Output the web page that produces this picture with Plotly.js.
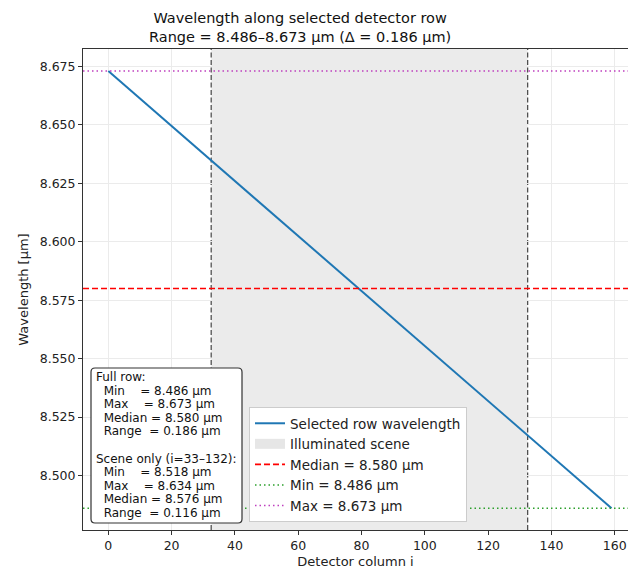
<!DOCTYPE html>
<html>
<head>
<meta charset="utf-8">
<script src="https://cdn.plot.ly/plotly-3.0.1.min.js"></script>
<style>html,body{margin:0;padding:0;background:#fff;} #chart{width:628px;height:573px;}</style>
</head>
<body>
<div id="chart"></div>
<script>
// Data
const columns = [0, 20, 40, 60, 80, 100, 120, 140, 159];
const wavelengths = [8.673, 8.6495, 8.626, 8.6024, 8.5789, 8.5554, 8.5319, 8.5083, 8.486];
const sceneStart = 33;
const sceneEnd = 132;
const fullMin = 8.486, fullMax = 8.673, fullMedian = 8.580, fullRange = 0.186;
const sceneMin = 8.518, sceneMax = 8.634, sceneMedian = 8.576, sceneRange = 0.116;
const yTicks = [8.500, 8.525, 8.550, 8.575, 8.600, 8.625, 8.650, 8.675];
const xTicks = [0, 20, 40, 60, 80, 100, 120, 140, 160];

const FONT = 'DejaVu Sans, sans-serif';
const nb = '\u00a0';
const f3 = v => v.toFixed(3);
const SHADE = 'rgba(128,128,128,0.16)';
const X_RANGE = [-8.0, 164.2];
const Y_RANGE = [8.4767, 8.6824];

// plot area geometry (pixels) for paper conversions
const PL = 83, PW = 545, PB = 530, PH = 481;
const px = v => (v - PL) / PW;
const py = v => (PB - v) / PH;

const hline = (val, name, color, width, dash) => ({
  x: X_RANGE, y: [val, val], type: 'scatter', mode: 'lines', name: name,
  line: {color: color, width: width, dash: dash}, hoverinfo: 'skip'
});

const traces = [
  {
    x: columns, y: wavelengths, type: 'scatter', mode: 'lines',
    name: 'Selected row wavelength', line: {color: '#1f77b4', width: 2}
  },
  {
    // legend entry for the shaded scene region (drawn as a shape)
    x: [null], y: [null], type: 'scatter', mode: 'lines',
    line: {color: '#e6e6e6', width: 10}, name: 'Illuminated scene', hoverinfo: 'skip'
  },
  hline(fullMedian, 'Median = ' + f3(fullMedian) + ' µm', '#ff0000', 1.6, '6px,3px'),
  hline(fullMin, 'Min = ' + f3(fullMin) + ' µm', '#2ca02c', 1.4, '1.5px,3px'),
  hline(fullMax, 'Max = ' + f3(fullMax) + ' µm', '#bf40bf', 1.4, '1.5px,3px')
];

const shapes = [
  {type: 'rect', xref: 'x', yref: 'paper', x0: sceneStart - 0.5, x1: sceneEnd + 0.5, y0: 0, y1: 1,
   fillcolor: SHADE, line: {width: 0}, layer: 'below'},
  {type: 'line', xref: 'x', yref: 'paper', x0: sceneStart - 0.5, x1: sceneStart - 0.5, y0: 0, y1: 1,
   line: {color: '#444', width: 1.2, dash: '5px,2.5px'}, layer: 'below'},
  {type: 'line', xref: 'x', yref: 'paper', x0: sceneEnd + 0.5, x1: sceneEnd + 0.5, y0: 0, y1: 1,
   line: {color: '#444', width: 1.2, dash: '5px,2.5px'}, layer: 'below'}
];

// Stats box: rounded rectangle behind line-by-line text
const bx0 = px(91), bx1 = px(242), by0 = py(523), by1 = py(368);
const rx = 4 / PW, ry = 4 / PH;
shapes.push({
  type: 'path', xref: 'paper', yref: 'paper', layer: 'above',
  path: `M ${bx0 + rx},${by0} L ${bx1 - rx},${by0} Q ${bx1},${by0} ${bx1},${by0 + ry} ` +
        `L ${bx1},${by1 - ry} Q ${bx1},${by1} ${bx1 - rx},${by1} L ${bx0 + rx},${by1} ` +
        `Q ${bx0},${by1} ${bx0},${by1 - ry} L ${bx0},${by0 + ry} Q ${bx0},${by0} ${bx0 + rx},${by0} Z`,
  fillcolor: '#ffffff', line: {color: '#333', width: 1.2}
});

const boxLines = [
  'Full row:',
  nb + nb + 'Min' + nb.repeat(4) + '= ' + f3(fullMin) + ' µm',
  nb + nb + 'Max' + nb.repeat(4) + '= ' + f3(fullMax) + ' µm',
  nb + nb + 'Median = ' + f3(fullMedian) + ' µm',
  nb + nb + 'Range' + nb + nb + '= ' + f3(fullRange) + ' µm',
  '',
  'Scene only (i=' + sceneStart + '–' + sceneEnd + '):',
  nb + nb + 'Min' + nb.repeat(4) + '= ' + f3(sceneMin) + ' µm',
  nb + nb + 'Max' + nb.repeat(4) + '= ' + f3(sceneMax) + ' µm',
  nb + nb + 'Median = ' + f3(sceneMedian) + ' µm',
  nb + nb + 'Range' + nb + nb + '= ' + f3(sceneRange) + ' µm'
];

const titleText = 'Wavelength along selected detector row<br>Range = ' + f3(fullMin) + '–' + f3(fullMax) +
  ' µm (Δ = ' + f3(fullRange) + ' µm)';

const annotations = [{
  xref: 'paper', yref: 'paper', x: px(300), y: 1, xanchor: 'center', yanchor: 'bottom',
  yshift: 2, text: titleText, showarrow: false, align: 'center',
  font: {family: FONT, size: 14.5, color: '#111'}
}];
boxLines.forEach((t, i) => {
  if (!t) return;
  annotations.push({
    xref: 'paper', yref: 'paper', x: px(94), y: py(377 + i * 13.6),
    xanchor: 'left', yanchor: 'middle', text: t, showarrow: false, align: 'left',
    font: {family: FONT, size: 12, color: '#111'}
  });
});

const layout = {
  width: 628, height: 573,
  margin: {l: 83, r: 0, t: 49, b: 43},
  paper_bgcolor: '#fff', plot_bgcolor: '#fff',
  font: {family: FONT, size: 13, color: '#222'},
  xaxis: {
    range: X_RANGE, tickvals: xTicks, ticktext: xTicks.map(String),
    showgrid: true, gridcolor: '#ebebeb', gridwidth: 1,
    showline: true, linecolor: '#333', linewidth: 1, mirror: true,
    ticks: 'outside', ticklen: 4, tickcolor: '#333',
    zeroline: false,
    tickfont: {family: FONT, size: 12.5, color: '#222'},
    title: {text: 'Detector column i', font: {family: FONT, size: 13, color: '#222'}, standoff: 4}
  },
  yaxis: {
    range: Y_RANGE, tickvals: yTicks, ticktext: yTicks.map(f3),
    showgrid: true, gridcolor: '#ebebeb', gridwidth: 1,
    showline: true, linecolor: '#333', linewidth: 1, mirror: false,
    ticks: 'outside', ticklen: 4, tickcolor: '#333',
    zeroline: false,
    tickfont: {family: FONT, size: 12.5, color: '#222'},
    title: {text: 'Wavelength [µm]', font: {family: FONT, size: 13, color: '#222'}, standoff: 8}
  },
  shapes: shapes,
  showlegend: true,
  legend: {
    x: px(249), xanchor: 'left', y: py(522), yanchor: 'bottom',
    bgcolor: '#ffffff', bordercolor: '#cccccc', borderwidth: 1,
    font: {family: FONT, size: 13.5, color: '#222'},
    traceorder: 'normal', tracegroupgap: 0
  },
  annotations: annotations
};

Plotly.newPlot('chart', traces, layout, {displayModeBar: false, staticPlot: true});
</script>
</body>
</html>
